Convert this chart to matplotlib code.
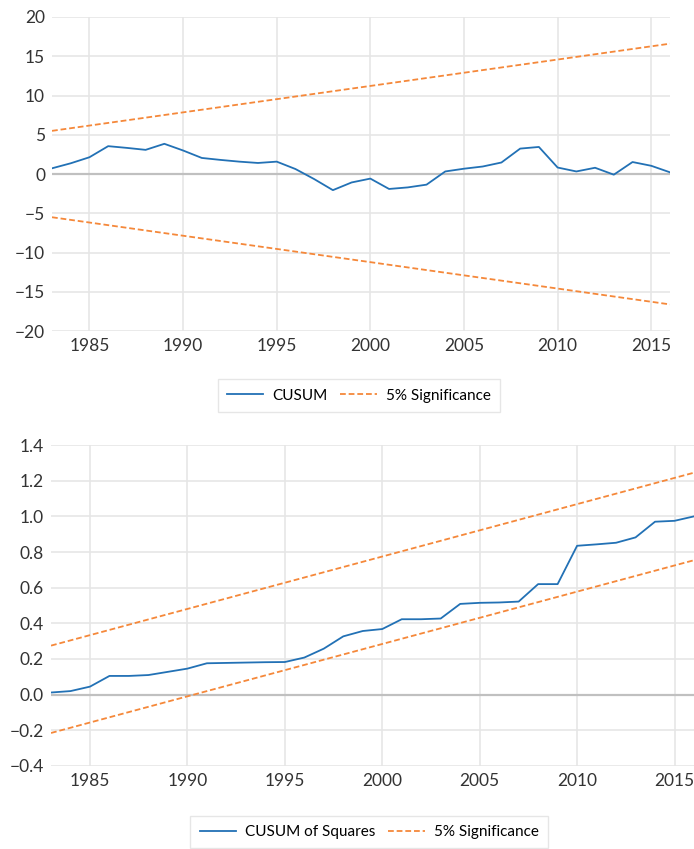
import numpy as np
import matplotlib.pyplot as plt

# === DATI ===
years = list(range(1983, 2017))
cusum = [0.73, 1.37, 2.14, 3.55, 3.33, 3.08, 3.85, 3.0, 2.05, 1.8, 1.58, 1.41,
         1.58, 0.64, -0.64, -2.05, -1.07, -0.58, -1.9, -1.7, -1.35, 0.33, 0.68,
         0.96, 1.47, 3.24, 3.45, 0.83, 0.33, 0.8, -0.08, 1.53, 1.05, 0.22]
cusumsq = [0.012, 0.02, 0.045, 0.105, 0.105, 0.11, 0.128, 0.146, 0.176, 0.178,
           0.18, 0.182, 0.183, 0.208, 0.258, 0.327, 0.357, 0.368, 0.423, 0.423,
           0.427, 0.509, 0.515, 0.517, 0.522, 0.62, 0.62, 0.835, 0.843, 0.852,
           0.882, 0.97, 0.975, 1.0]

sig_years = [1983, 2016]
cusum_upper = [5.5, 16.6]
cusum_lower = [-5.5, -16.6]
sq_upper = [0.275, 1.245]
sq_lower = [-0.215, 0.754]

BLUE = "#2271b5"
ORANGE = "#f5883a"
GRID = "#e6e6e6"
DASH = (0, (3.2, 1.6))

plt.rcParams['font.family'] = ['Lato', 'DejaVu Sans']
plt.rcParams['font.size'] = 11

fig = plt.figure(figsize=(6.94, 8.49), dpi=100)


def style_axes(ax, yticks, ylim, fmt):
    ax.set_xlim(1983, 2016)
    ax.set_ylim(*ylim)
    ax.set_xticks(range(1985, 2016, 5))
    ax.set_yticks(yticks)
    ax.set_yticklabels([fmt(v).replace("-", "\u2212") for v in yticks])
    for s in ax.spines.values():
        s.set_visible(False)
    ax.grid(True, color=GRID, lw=1.2)
    ax.set_axisbelow(True)
    ax.tick_params(length=0, colors="#333333", labelsize=12.5, pad=5)
    ax.axhline(0, color="#c0c0c0", lw=1.6, zorder=1)


def add_legend(handles, center):
    fig.legend(handles=handles, loc="center", bbox_to_anchor=center,
               ncol=2, frameon=True, fancybox=False, edgecolor="#e0e0e0",
               fontsize=11, handlelength=2.4, columnspacing=0.8,
               handletextpad=0.6, borderpad=0.6)


# --- CUSUM ---
ax1 = fig.add_axes([0.0749, 0.610, 0.8905, 0.370])
l1, = ax1.plot(years, cusum, color=BLUE, lw=1.3, label="CUSUM", zorder=3)
l2, = ax1.plot(sig_years, cusum_upper, color=ORANGE, lw=1.3, ls=DASH,
               label="5% Significance", zorder=3)
ax1.plot(sig_years, cusum_lower, color=ORANGE, lw=1.3, ls=DASH, zorder=3)
style_axes(ax1, range(-20, 21, 5), (-20, 20), lambda v: f"{v:d}")
add_legend([l1, l2], (0.517, 0.534))

# --- CUSUM of Squares ---
ax2 = fig.add_axes([0.0735, 0.0978, 0.9265, 0.378])
m1, = ax2.plot(years, cusumsq, color=BLUE, lw=1.3, label="CUSUM of Squares", zorder=3)
m2, = ax2.plot(sig_years, sq_upper, color=ORANGE, lw=1.3, ls=DASH,
               label="5% Significance", zorder=3)
ax2.plot(sig_years, sq_lower, color=ORANGE, lw=1.3, ls=DASH, zorder=3)
style_axes(ax2, np.arange(-0.4, 1.41, 0.2), (-0.4, 1.4),
           lambda v: f"{v:.1f}".replace("-0.0", "0.0"))
add_legend([m1, m2], (0.532, 0.020))

fig.savefig("out.png", dpi=100)
